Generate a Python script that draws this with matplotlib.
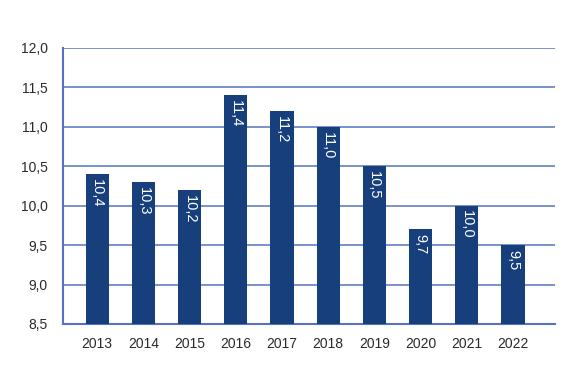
import matplotlib.pyplot as plt
import numpy as np

# dane z wykresu
years = ['2013', '2014', '2015', '2016', '2017', '2018', '2019', '2020', '2021', '2022']
values = [10.4, 10.3, 10.2, 11.4, 11.2, 11.0, 10.5, 9.7, 10.0, 9.5]
yticks = [8.5, 9.0, 9.5, 10.0, 10.5, 11.0, 11.5, 12.0]
base = 8.5

bar_color = '#173f7c'
grid_color = '#5574bd'

plt.rcParams['font.family'] = ['Liberation Sans', 'DejaVu Sans']

fig = plt.figure(figsize=(5.8, 3.79), dpi=100)
ax = fig.add_axes([63 / 580, 1 - 324 / 379, (555 - 63) / 580, (324 - 48) / 379])

x = np.arange(len(years))
heights = np.array(values) - base
ax.bar(x, heights, width=0.5, bottom=base, color=bar_color, zorder=3)

# etykiety w słupkach, pionowo
for xi, v in zip(x, values):
    ax.text(xi, v - 0.06, f'{v:.1f}'.replace('.', ','), rotation=270,
            ha='center', va='top', color='white', fontsize=10.5, zorder=4)

ax.set_ylim(base, 12.0)
ax.set_xlim(-0.74, 9.91)
ax.set_yticks(yticks)
ax.set_yticklabels([f'{t:.1f}'.replace('.', ',') for t in yticks])
ax.set_xticks(x)
ax.set_xticklabels(years)
ax.tick_params(axis='both', length=0, labelsize=10, colors='#2a2a2a')
ax.tick_params(axis='y', pad=11)
ax.tick_params(axis='x', pad=9)

ax.grid(axis='y', color=grid_color, linewidth=1.1, zorder=1)
for side in ['top', 'right']:
    ax.spines[side].set_visible(False)
for side in ['left', 'bottom']:
    ax.spines[side].set_color(grid_color)
    ax.spines[side].set_linewidth(1.5)

fig.savefig('out.png', dpi=100)
